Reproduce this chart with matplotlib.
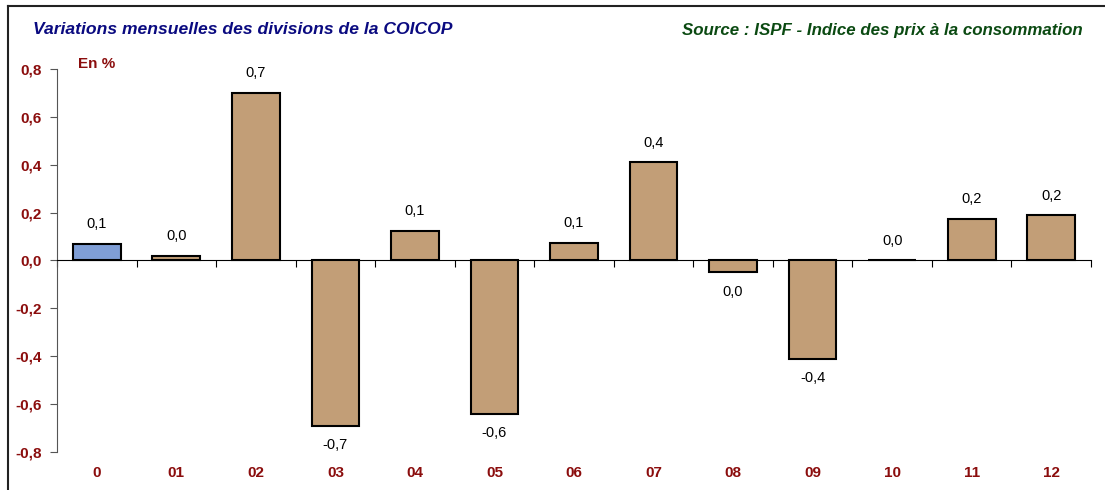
import matplotlib
matplotlib.use("Agg")
import matplotlib.pyplot as plt
from matplotlib.lines import Line2D
from matplotlib.ticker import FixedLocator

divisions = ["0", "01", "02", "03", "04", "05", "06", "07", "08", "09", "10", "11", "12"]
variations = [0.07, 0.02, 0.70, -0.69, 0.125, -0.64, 0.075, 0.41, -0.05, -0.41, 0.0, 0.175, 0.19]
value_labels = ["0,1", "0,0", "0,7", "-0,7", "0,1", "-0,6", "0,1", "0,4", "0,0", "-0,4", "0,0", "0,2", "0,2"]
y_ticks = [-0.8, -0.6, -0.4, -0.2, 0.0, 0.2, 0.4, 0.6, 0.8]

plt.rcParams['font.family'] = ['Liberation Sans', 'DejaVu Sans']
red = "#8b0d0d"

fig = plt.figure(figsize=(11.05, 4.9), dpi=100)
ax = fig.add_axes([57/1105, 1 - 452/490, (1091 - 57)/1105, (452 - 69)/490])

x = list(range(len(divisions)))
colors = ["#7f9ed6"] + ["#c29e77"] * (len(divisions) - 1)
ax.bar(x, variations, width=0.6, color=colors, edgecolor="black", linewidth=1.5, zorder=3)

for xi, v, lab in zip(x, variations, value_labels):
    if v >= 0:
        ax.annotate(lab, (xi, v), xytext=(0, 9), textcoords="offset points",
                    ha="center", va="bottom", fontsize=10.5)
    else:
        ax.annotate(lab, (xi, v), xytext=(0, -9), textcoords="offset points",
                    ha="center", va="top", fontsize=10.5)

ax.set_xlim(-0.5, len(divisions) - 0.5)
ax.set_ylim(-0.8, 0.8)
ax.set_yticks(y_ticks)
ax.set_yticklabels([f"{t:.1f}".replace(".", ",") for t in y_ticks],
                   fontsize=11, fontweight="bold", color=red)
ax.tick_params(axis="y", direction="out", length=5, color="#555555", pad=6)

for s in ["top", "right"]:
    ax.spines[s].set_visible(False)
ax.spines["left"].set_color("#555555")
ax.spines["bottom"].set_position(("data", 0))
ax.spines["bottom"].set_color("black")
ax.xaxis.set_major_locator(FixedLocator([i + 0.5 for i in range(-1, len(divisions))]))
ax.set_xticklabels([])
ax.tick_params(axis="x", direction="out", length=5, color="black")

for xi, d in zip(x, divisions):
    ax.text(xi, -0.888, d, ha="center", va="center", fontsize=11,
            fontweight="bold", color=red, clip_on=False)

fig.text(33/1105, 1 - 30/490, "Variations mensuelles des divisions de la COICOP",
         fontsize=12.6, fontweight="bold", style="italic", color="#0a0a80", va="center")
fig.text(1083/1105, 1 - 30/490, "Source : ISPF - Indice des prix à la consommation",
         fontsize=12.2, fontweight="bold", style="italic", color="#0b4a12", va="center", ha="right")
fig.text(78/1105, 1 - 64/490, "En %", fontsize=11, fontweight="bold", color=red, va="center")

fig.add_artist(Line2D([8/1105, 8/1105], [0, 1 - 6/490], color="#222222", lw=1.5, transform=fig.transFigure))
fig.add_artist(Line2D([8/1105, 1], [1 - 6/490, 1 - 6/490], color="#222222", lw=1.5, transform=fig.transFigure))

fig.savefig("out.png", dpi=100)
